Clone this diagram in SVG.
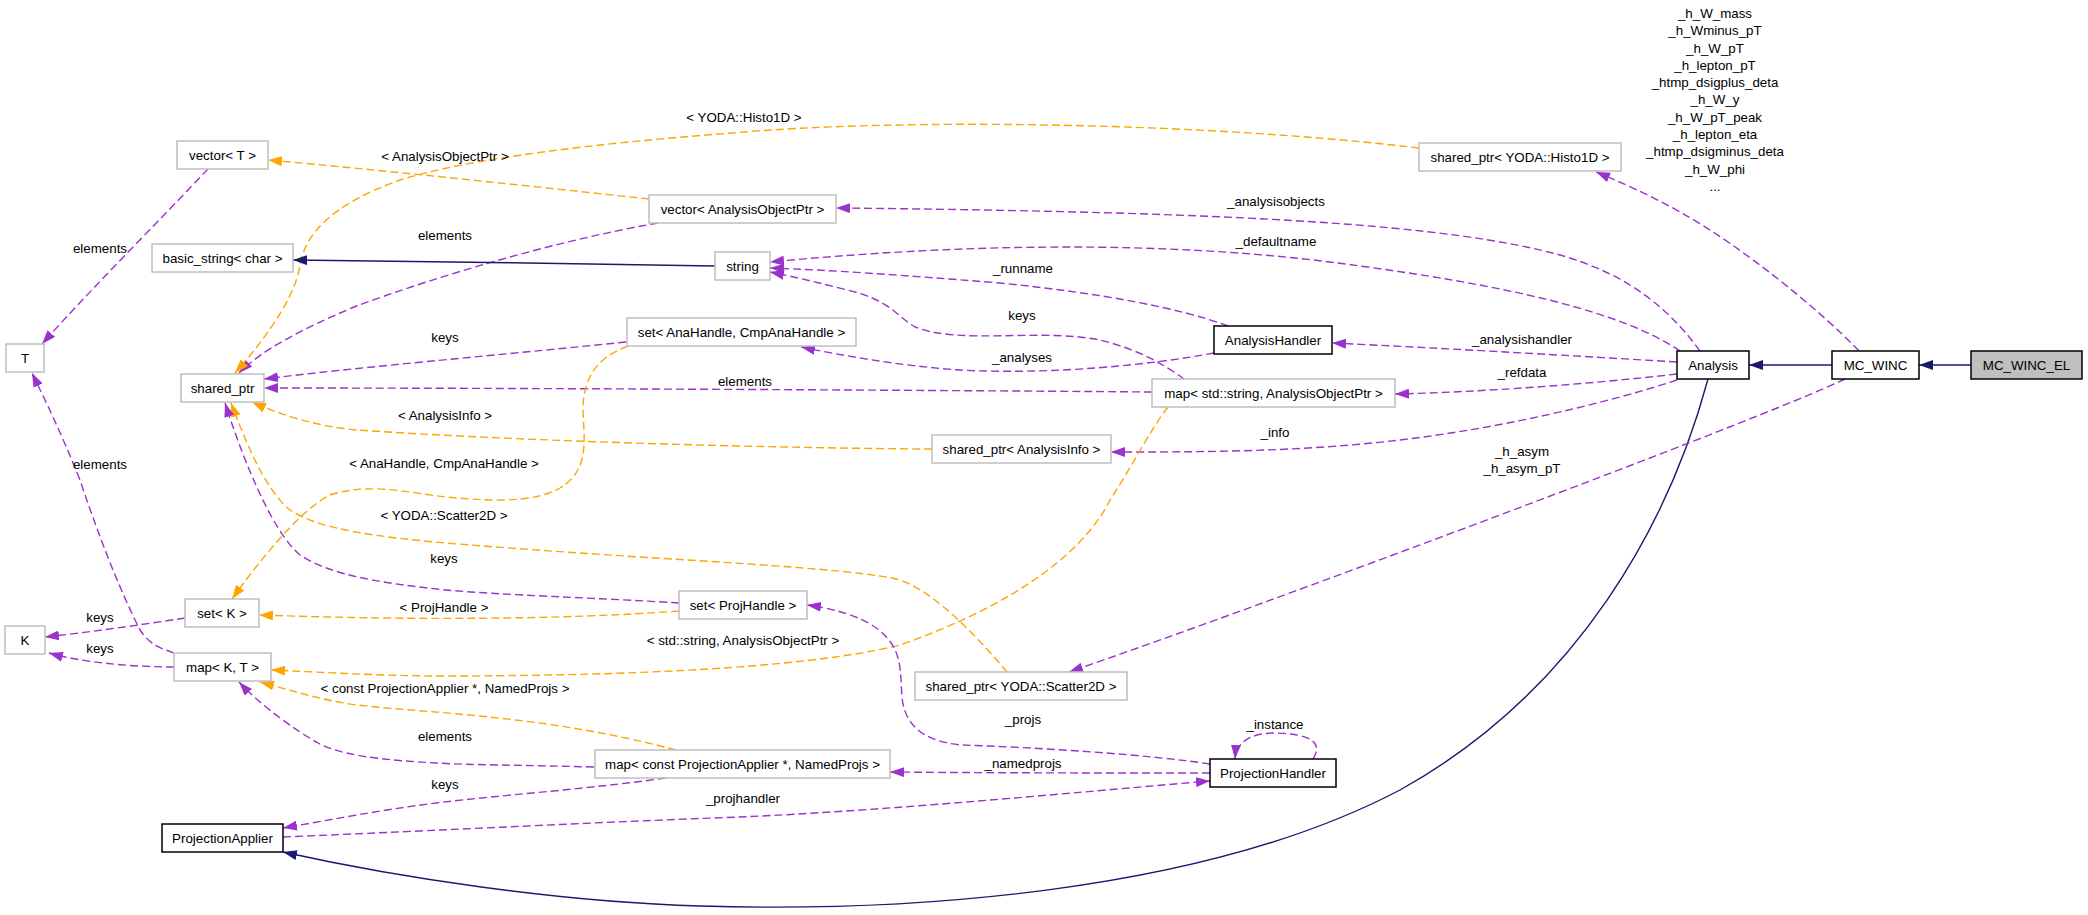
<svg xmlns="http://www.w3.org/2000/svg" width="2088" height="915" viewBox="0 0 2088 915">
<style>
text{font-family:"Liberation Sans",Arial,sans-serif;font-size:13.33px;fill:#000;text-anchor:middle}
.node rect{fill:#fff;stroke:#bfbfbf;stroke-width:1.5}
.node.doc rect{stroke:#000}
.node.cur rect{fill:#bfbfbf;stroke:#000}
.e{fill:none;stroke-width:1.4}
.p{stroke:#9a32cd;stroke-dasharray:8,4;marker-end:url(#aP)}
.o{stroke:#ffa500;stroke-dasharray:8,4;marker-end:url(#aO)}
.b{stroke:#191970;marker-end:url(#aB)}
</style>
<defs>
<marker id="aP" markerUnits="userSpaceOnUse" markerWidth="14" markerHeight="10" refX="14" refY="5" orient="auto"><path d="M0,0 L14,5 L0,10 z" fill="#9a32cd"/></marker>
<marker id="aO" markerUnits="userSpaceOnUse" markerWidth="14" markerHeight="10" refX="14" refY="5" orient="auto"><path d="M0,0 L14,5 L0,10 z" fill="#ffa500"/></marker>
<marker id="aB" markerUnits="userSpaceOnUse" markerWidth="14" markerHeight="10" refX="14" refY="5" orient="auto"><path d="M0,0 L14,5 L0,10 z" fill="#191970"/></marker>
</defs>
<rect width="2088" height="915" fill="#fff"/>
<g id="edges">
<path class="e b" d="M1971,365 L1919,365"/>
<path class="e b" d="M1832,365 L1749,365"/>
<path class="e b" d="M1708,379 C1670,520 1580,690 1400,790 C1200,895 900,912 700,906 C560,902 400,878 283,852"/>
<path class="e p" d="M1859,351 C1820,310 1740,245 1680,212 C1650,195 1620,182 1596,172"/>
<path class="e p" d="M1845,379 C1760,420 1250,610 1069,672"/>
<path class="e p" d="M1700,351 C1670,310 1630,275 1560,255 C1450,225 1250,212 836,208"/>
<path class="e p" d="M1680,351 C1620,310 1500,285 1360,266 C1200,243 1000,240 770,262"/>
<path class="e p" d="M1228,326 C1180,308 1100,293 1000,283 C900,275 830,270 770,268"/>
<path class="e p" d="M1184,379 C1165,365 1140,350 1100,340 C1040,328 960,345 915,327 C895,315 890,300 847,290 C820,283 795,277 770,272"/>
<path class="e p" d="M1214,353 C1150,365 1050,375 960,370 C900,366 840,355 801,347"/>
<path class="e p" d="M1677,362 C1560,355 1440,348 1332,343"/>
<path class="e p" d="M1677,374 C1580,385 1480,392 1395,394"/>
<path class="e p" d="M1677,380 C1600,405 1500,428 1400,440 C1300,452 1200,452 1111,452"/>
<path class="e p" d="M1152,392 C900,390 500,388 264,388"/>
<path class="e p" d="M626,342 C500,355 350,368 264,379"/>
<path class="e p" d="M658,223 C560,240 440,275 354,307 C300,330 262,350 239,373"/>
<path class="e o" d="M649,199 C520,185 380,170 268,160"/>
<path class="e o" d="M1419,148 C1200,122 900,118 732,133 C600,143 470,158 400,180 C330,205 305,235 300,265 C295,300 260,345 235,373"/>
<path class="e o" d="M932,449 C750,448 500,440 357,430 C320,427 280,415 252,402"/>
<path class="e o" d="M628,346 C595,358 583,380 583,410 C584,440 590,470 560,488 C530,505 480,500 446,497 C410,493 370,482 330,495 C300,510 260,560 232,599"/>
<path class="e o" d="M1007,672 C980,640 930,585 892,578 C820,565 650,560 446,543 C380,537 320,530 290,510 C265,490 245,440 231,403"/>
<path class="e p" d="M679,603 C600,598 500,595 446,590 C380,583 330,575 300,555 C270,530 240,450 225,403"/>
<path class="e o" d="M679,611 C560,620 400,620 259,615"/>
<path class="e o" d="M1168,407 C1150,430 1130,470 1110,500 C1080,560 1000,610 900,645 C800,670 600,676 446,676 C380,676 320,672 271,670"/>
<path class="e p" d="M185,618 C140,625 90,632 45,637"/>
<path class="e p" d="M174,667 C130,667 80,662 49,653"/>
<path class="e p" d="M174,653 C160,648 150,645 140,630 C120,590 100,540 80,480 C60,430 45,400 32,373"/>
<path class="e p" d="M208,169 C160,220 90,290 42,344"/>
<path class="e o" d="M676,750 C620,735 560,725 515,720 C450,712 400,710 357,705 C320,700 290,690 260,682"/>
<path class="e p" d="M594,767 C520,765 470,765 436,763 C380,760 340,755 318,743 C295,730 260,705 239,682"/>
<path class="e p" d="M666,778 C580,790 500,795 436,803 C380,810 330,820 283,828"/>
<path class="e p" d="M283,837 C450,830 600,822 740,817 C900,810 1100,790 1210,781"/>
<path class="e p" d="M1210,773 C1100,773 1000,773 890,772"/>
<path class="e p" d="M1210,764 C1150,755 1050,748 961,745 C930,742 905,730 902,697 C900,670 903,650 879,630 C860,615 830,608 807,605"/>
<path class="e p" d="M1313,759 C1322,745 1316,734 1275,733 C1248,733 1236,744 1235,759"/>
<path class="e b" d="M715,266 C600,264 400,261 293,260"/>
<g id="edge-labels">
<text x="1715" y="18">_h_W_mass</text>
<text x="1715" y="35">_h_Wminus_pT</text>
<text x="1715" y="53">_h_W_pT</text>
<text x="1715" y="70">_h_lepton_pT</text>
<text x="1715" y="87">_htmp_dsigplus_deta</text>
<text x="1715" y="104">_h_W_y</text>
<text x="1715" y="122">_h_W_pT_peak</text>
<text x="1715" y="139">_h_lepton_eta</text>
<text x="1715" y="156">_htmp_dsigminus_deta</text>
<text x="1715" y="174">_h_W_phi</text>
<text x="1715" y="191">...</text>
<text x="1522" y="456">_h_asym</text>
<text x="1522" y="473">_h_asym_pT</text>
<text x="1276" y="206">_analysisobjects</text>
<text x="1276" y="246">_defaultname</text>
<text x="1023" y="273">_runname</text>
<text x="1022" y="320">keys</text>
<text x="1022" y="362">_analyses</text>
<text x="1522" y="344">_analysishandler</text>
<text x="1522" y="377">_refdata</text>
<text x="1275" y="437">_info</text>
<text x="745" y="386">elements</text>
<text x="445" y="342">keys</text>
<text x="445" y="240">elements</text>
<text x="445" y="161">&lt; AnalysisObjectPtr &gt;</text>
<text x="744" y="122">&lt; YODA::Histo1D &gt;</text>
<text x="445" y="420">&lt; AnalysisInfo &gt;</text>
<text x="444" y="468">&lt; AnaHandle, CmpAnaHandle &gt;</text>
<text x="444" y="520">&lt; YODA::Scatter2D &gt;</text>
<text x="444" y="563">keys</text>
<text x="444" y="612">&lt; ProjHandle &gt;</text>
<text x="743" y="645">&lt; std::string, AnalysisObjectPtr &gt;</text>
<text x="100" y="622">keys</text>
<text x="100" y="653">keys</text>
<text x="100" y="469">elements</text>
<text x="100" y="253">elements</text>
<text x="445" y="693">&lt; const ProjectionApplier *, NamedProjs &gt;</text>
<text x="445" y="741">elements</text>
<text x="445" y="789">keys</text>
<text x="743" y="803">_projhandler</text>
<text x="1023" y="768">_namedprojs</text>
<text x="1023" y="724">_projs</text>
<text x="1275" y="729">_instance</text>
</g>
</g>
<g id="n_vecT" class="node"><rect x="177" y="141" width="91" height="28"/><text x="222.5" y="160">vector&lt; T &gt;</text></g>
<g id="n_basic" class="node"><rect x="152" y="244" width="141" height="28"/><text x="222.5" y="263">basic_string&lt; char &gt;</text></g>
<g id="n_T" class="node"><rect x="6" y="344" width="38" height="28"/><text x="25" y="363">T</text></g>
<g id="n_sp" class="node"><rect x="181" y="374" width="83" height="28"/><text x="222.5" y="393">shared_ptr</text></g>
<g id="n_K" class="node"><rect x="5" y="626" width="40" height="28"/><text x="25" y="645">K</text></g>
<g id="n_setK" class="node"><rect x="185" y="599" width="74" height="28"/><text x="222" y="618">set&lt; K &gt;</text></g>
<g id="n_mapKT" class="node"><rect x="174" y="653" width="97" height="28"/><text x="222.5" y="672">map&lt; K, T &gt;</text></g>
<g id="n_PA" class="node doc"><rect x="162" y="824" width="121" height="28"/><text x="222.5" y="843">ProjectionApplier</text></g>
<g id="n_vecAOP" class="node"><rect x="649" y="195" width="187" height="28"/><text x="742.5" y="214">vector&lt; AnalysisObjectPtr &gt;</text></g>
<g id="n_string" class="node"><rect x="715" y="252" width="55" height="28"/><text x="742.5" y="271">string</text></g>
<g id="n_setAna" class="node"><rect x="627" y="318" width="229" height="28"/><text x="741.5" y="337">set&lt; AnaHandle, CmpAnaHandle &gt;</text></g>
<g id="n_info" class="node"><rect x="932" y="435" width="179" height="28"/><text x="1021.5" y="454">shared_ptr&lt; AnalysisInfo &gt;</text></g>
<g id="n_mapStr" class="node"><rect x="1152" y="379" width="243" height="28"/><text x="1273.5" y="398">map&lt; std::string, AnalysisObjectPtr &gt;</text></g>
<g id="n_AH" class="node doc"><rect x="1214" y="326" width="118" height="28"/><text x="1273" y="345">AnalysisHandler</text></g>
<g id="n_setPH" class="node"><rect x="679" y="591" width="128" height="28"/><text x="743" y="610">set&lt; ProjHandle &gt;</text></g>
<g id="n_sc2d" class="node"><rect x="915" y="672" width="212" height="28"/><text x="1021" y="691">shared_ptr&lt; YODA::Scatter2D &gt;</text></g>
<g id="n_mapPA" class="node"><rect x="595" y="750" width="295" height="28"/><text x="742.5" y="769">map&lt; const ProjectionApplier *, NamedProjs &gt;</text></g>
<g id="n_PH" class="node doc"><rect x="1210" y="759" width="126" height="28"/><text x="1273" y="778">ProjectionHandler</text></g>
<g id="n_h1d" class="node"><rect x="1419" y="143" width="202" height="28"/><text x="1520" y="162">shared_ptr&lt; YODA::Histo1D &gt;</text></g>
<g id="n_Analysis" class="node doc"><rect x="1677" y="351" width="72" height="28"/><text x="1713" y="370">Analysis</text></g>
<g id="n_MCW" class="node doc"><rect x="1832" y="351" width="87" height="28"/><text x="1875.5" y="370">MC_WINC</text></g>
<g id="n_MCWEL" class="node cur"><rect x="1971" y="351" width="111" height="28"/><text x="2026.5" y="370">MC_WINC_EL</text></g>
</svg>
